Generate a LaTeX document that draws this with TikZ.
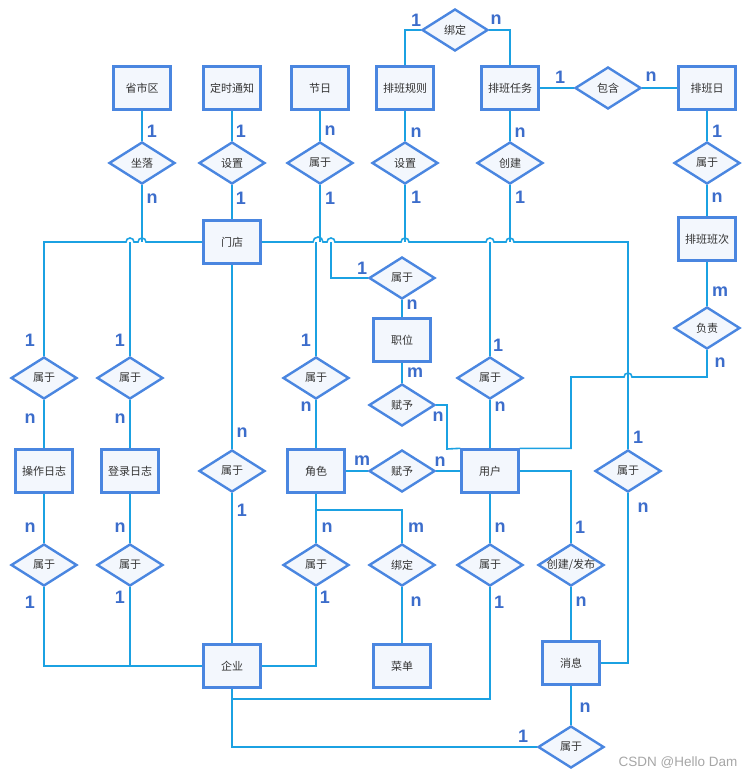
\documentclass[tikz,border=0pt]{standalone}
\usepackage{fontspec}
\setmainfont{Noto Sans CJK SC}
\newfontfamily\numfont{Liberation Sans}
\usetikzlibrary{shapes.geometric,backgrounds}
\definecolor{edgeblue}{HTML}{4A86E0}
\definecolor{fillblue}{HTML}{F3F7FD}
\definecolor{lineblue}{HTML}{1BA1E2}
\definecolor{numblue}{HTML}{3C6DCB}
\definecolor{textgray}{HTML}{333333}
\newcommand\hopr{arc[start angle=180,end angle=0,radius=4pt]}
\newcommand\hopl{arc[start angle=0,end angle=180,radius=4pt]}
\begin{document}
\begin{tikzpicture}[x=1pt,y=-1pt,font=\fontsize{11}{13}\selectfont,
ent/.style={draw=edgeblue,fill=fillblue,line width=2.4pt,minimum width=57pt,minimum height=43pt,inner sep=0pt,text=textgray},
rel/.style={diamond,draw=edgeblue,fill=fillblue,line width=2.4pt,minimum width=66pt,minimum height=42pt,inner sep=0pt,text=textgray},
conn/.style={draw=lineblue,line width=1.6pt},
num/.style={text=numblue,font=\numfont\bfseries\fontsize{18}{18}\selectfont,inner sep=0pt}]
\useasboundingbox (0,0) rectangle (755,778);
\node[ent] (ssq) at (142,88) {省市区};
\node[ent] (dstz) at (232,88) {定时通知};
\node[ent] (jr) at (320,88) {节日};
\node[ent] (pbgz) at (405,88) {排班规则};
\node[ent] (pbrw) at (510,88) {排班任务};
\node[ent] (pbr) at (707,88) {排班日};
\node[ent] (pbbc) at (707,239) {排班班次};
\node[ent] (md) at (232,242) {门店};
\node[ent] (zw) at (402,340) {职位};
\node[ent] (czrz) at (44,471) {操作日志};
\node[ent] (dlrz) at (130,471) {登录日志};
\node[ent] (js) at (316,471) {角色};
\node[ent] (yh) at (490,471) {用户};
\node[ent] (qy) at (232,666) {企业};
\node[ent] (cd) at (402,666) {菜单};
\node[ent] (xx) at (571,663) {消息};
\node[rel] (zl) at (142,163) {坐落};
\node[rel] (sz1) at (232,163) {设置};
\node[rel] (sy1) at (320,163) {属于};
\node[rel] (sz2) at (405,163) {设置};
\node[rel] (cj) at (510,163) {创建};
\node[rel] (bd1) at (455,30) {绑定};
\node[rel] (bh) at (608,88) {包含};
\node[rel] (sy2) at (707,163) {属于};
\node[rel] (fz) at (707,328) {负责};
\node[rel] (sy3) at (402,278) {属于};
\node[rel] (fy1) at (402,405) {赋予};
\node[rel] (sy4) at (44,378) {属于};
\node[rel] (sy5) at (130,378) {属于};
\node[rel] (sy6) at (316,378) {属于};
\node[rel] (sy7) at (490,378) {属于};
\node[rel] (sy8) at (232,471) {属于};
\node[rel] (fy2) at (402,471) {赋予};
\node[rel] (sy9) at (628,471) {属于};
\node[rel] (sy10) at (44,565) {属于};
\node[rel] (sy11) at (130,565) {属于};
\node[rel] (sy12) at (316,565) {属于};
\node[rel] (bd2) at (402,565) {绑定};
\node[rel] (sy13) at (490,565) {属于};
\node[rel] (cjfb) at (571,565) {\makebox[0pt]{创建/发布}};
\node[rel] (sy14) at (571,747) {属于};
\coordinate (j1) at (331,242);
\coordinate (j2) at (571,377);
\coordinate (j3) at (447,449);
\coordinate (j4) at (316,510);
\coordinate (j5) at (232,699);
\begin{scope}[on background layer]
\draw[conn] (ssq.south) -- (zl.north);
\draw[conn] (dstz.south) -- (sz1.north) (sz1.south) -- (md.north);
\draw[conn] (jr.south) -- (sy1.north);
\draw[conn] (pbgz.south) -- (sz2.north) (pbrw.south) -- (cj.north);
\draw[conn] (bd1.west) -| (pbgz.north) (bd1.east) -| (pbrw.north);
\draw[conn] (pbrw.east) -- (bh.west) (bh.east) -- (pbr.west);
\draw[conn] (pbr.south) -- (sy2.north) (sy2.south) -- (pbbc.north) (pbbc.south) -- (fz.north);
\draw[conn] (sy4.north) |- (126,242) \hopr -- (138,242) \hopr -- (md.west);
\draw[conn] (zl.south) -- (zl.south |- md.west);
\draw[conn] (sy5.north) -- (sy5.north |- md.west);
\draw[conn] (md.east) -- (313,242) arc[start angle=180,end angle=0,radius=5pt] -- (327,242) \hopr -- (401,242) \hopr -- (486,242) \hopr -- (506,242) \hopr -- (628,242) -- (sy9.north);
\draw[conn] (sy1.south) -- (sy1.south |- md.east);
\draw[conn] (sy6.north) -- (sy6.north |- md.east);
\draw[conn] (sy3.west) -| (j1);
\draw[conn] (sz2.south) -- (sz2.south |- md.east);
\draw[conn] (sy7.north) -- (sy7.north |- md.east);
\draw[conn] (cj.south) -- (cj.south |- md.east);
\draw[conn] (sy9.south) |- (xx.east);
\draw[conn] (fz.south) |- (632,377) \hopl -- (j2) |- (yh.north east);
\draw[conn] (sy3.south) -- (zw.north) (zw.south) -- (fy1.north);
\draw[conn] (fy1.east) -| (j3) -- (yh.north west);
\draw[conn] (sy4.south) -- (czrz.north) (sy5.south) -- (dlrz.north);
\draw[conn] (sy6.south) -- (js.north) (sy7.south) -- (yh.north);
\draw[conn] (md.south) -- (sy8.north) (sy8.south) -- (qy.north);
\draw[conn] (js.east) -- (fy2.west) (fy2.east) -- (yh.west);
\draw[conn] (czrz.south) -- (sy10.north) (dlrz.south) -- (sy11.north);
\draw[conn] (js.south) -- (sy12.north) (yh.south) -- (sy13.north);
\draw[conn] (j4) -| (bd2.north);
\draw[conn] (bd2.south) -- (cd.north);
\draw[conn] (sy10.south) |- (qy.west);
\draw[conn] (sy11.south) -- (sy11.south |- qy.west);
\draw[conn] (sy12.south) |- (qy.east);
\draw[conn] (sy13.south) |- (j5) -- (qy.south);
\draw[conn] (sy14.west) -| (qy.south);
\draw[conn] (yh.east) -| (cjfb.north);
\draw[conn] (cjfb.south) -- (xx.north) (xx.south) -- (sy14.north);
\end{scope}
\foreach \x/\y/\t in {152/131/1,152/199/n,241/131/1,241/198/1,330/131/n,330/198/1,416/20/1,496/20/n,416/133/n,416/197/1,520/133/n,520/197/1,560/77/1,651/77/n,717/131/1,717/198/n,720/292/m,720/363/n,30/340/1,30/419/n,120/340/1,120/419/n,242/433/n,242/510/1,306/340/1,306/407/n,362/268/1,412/305/n,415/373/m,438/417/n,498/345/1,500/407/n,362/461/m,440/462/n,638/437/1,643/508/n,30/528/n,30/602/1,120/528/n,120/597/1,327/528/n,325/597/1,416/528/m,416/602/n,500/528/n,499/602/1,580/527/1,581/602/n,585/708/n,523/736/1}
  \node[num] (c-\x-\y) at (\x,\y) {\t};
\node[text=gray!70,font=\numfont\fontsize{13.5}{14}\selectfont,inner sep=0pt] (wm) at (678,763) {CSDN @Hello Dam};
\end{tikzpicture}
\end{document}
